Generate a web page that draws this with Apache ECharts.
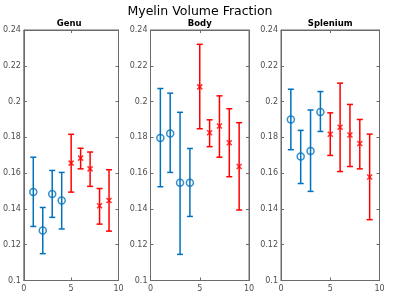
<!DOCTYPE html>
<html>
<head>
<meta charset="utf-8">
<script src="https://cdn.jsdelivr.net/npm/echarts@6/dist/echarts.min.js"></script>
<style>
  html, body { margin: 0; padding: 0; background: #fff; }
  #chart { width: 400px; height: 296px; }
</style>
</head>
<body>
<div id="chart"></div>
<script>
// subject index on the x axis; 1-4 are one group (blue), 5-9 the other (red)
const xs = [1, 2, 3, 4, 5, 6, 7, 8, 9];
const blueCount = 4;
const yTicks = [0.1, 0.12, 0.14, 0.16, 0.18, 0.2, 0.22, 0.24];
const xTicks = [0, 5, 10];
const panelNames = ["Genu", "Body", "Splenium"];

const genuMean = [0.1494, 0.128, 0.1483, 0.1447, 0.1656, 0.1684, 0.1624, 0.1418, 0.1447];
const genuLow = [0.1302, 0.115, 0.1353, 0.1288, 0.1494, 0.1624, 0.1526, 0.1315, 0.1276];
const genuHigh = [0.1689, 0.1408, 0.1615, 0.1604, 0.1817, 0.1739, 0.1718, 0.1514, 0.1619];

const bodyMean = [0.1796, 0.1822, 0.1546, 0.1546, 0.2082, 0.1826, 0.1863, 0.177, 0.1637];
const bodyLow = [0.1524, 0.1604, 0.1146, 0.1358, 0.1848, 0.1748, 0.1689, 0.158, 0.1394];
const bodyHigh = [0.2073, 0.2047, 0.194, 0.1738, 0.232, 0.1898, 0.2032, 0.196, 0.1882];

const spleniumMean = [0.19, 0.1693, 0.1724, 0.1942, 0.1817, 0.1857, 0.1813, 0.1766, 0.1578];
const spleniumLow = [0.1731, 0.1542, 0.1498, 0.1833, 0.1699, 0.1609, 0.1637, 0.1624, 0.134];
const spleniumHigh = [0.2069, 0.1839, 0.1953, 0.2056, 0.1937, 0.2103, 0.1984, 0.19, 0.1818];

const panels = [
  [genuMean, genuLow, genuHigh],
  [bodyMean, bodyLow, bodyHigh],
  [spleniumMean, spleniumLow, spleniumHigh]
];

const blue = "#0072BD";
const red = "#FF0000";
const axisColor = "#6b6b6b";
const textColor = "#4d4d4d";
const gridLefts = [20, 150.5, 281];
const gridW = 98.5;

const chart = echarts.init(document.getElementById("chart"));

function errorBar(color) {
  return function (params, api) {
    const top = api.coord([api.value(0), api.value(2)]);
    const bot = api.coord([api.value(0), api.value(1)]);
    const cap = 3;
    const style = { stroke: color, lineWidth: 1.5 };
    return {
      type: "group",
      children: [
        { type: "line", shape: { x1: top[0], y1: top[1], x2: bot[0], y2: bot[1] }, style: style },
        { type: "line", shape: { x1: top[0] - cap, y1: top[1], x2: top[0] + cap, y2: top[1] }, style: style },
        { type: "line", shape: { x1: bot[0] - cap, y1: bot[1], x2: bot[0] + cap, y2: bot[1] }, style: style }
      ]
    };
  };
}

const grids = [];
const xAxes = [];
const yAxes = [];
const series = [];
const titles = [{
  text: "Myelin Volume Fraction",
  left: "center",
  top: 5,
  padding: 0,
  textStyle: { fontSize: 12.5, fontWeight: "normal", color: "#000", fontFamily: "DejaVu Sans" }
}];

panels.forEach((p, i) => {
  grids.push({
    left: gridLefts[i], top: 30, width: gridW, height: 250.5,
    show: true, borderColor: axisColor, borderWidth: 1, backgroundColor: "#fff"
  });
  titles.push({
    text: panelNames[i],
    left: gridLefts[i] + gridW / 2,
    textAlign: "center",
    top: 19,
    padding: 0,
    textStyle: { fontSize: 8.5, fontWeight: "bold", color: "#000", fontFamily: "DejaVu Sans" }
  });
  const axBase = {
    gridIndex: i, type: "value", min: 0, max: 10, interval: 5,
    axisLine: { show: true, onZero: false, lineStyle: { color: axisColor } },
    axisTick: { show: true, inside: true, length: 3, lineStyle: { color: axisColor } },
    splitLine: { show: false }
  };
  xAxes.push(Object.assign({}, axBase, {
    position: "bottom",
    axisLabel: { color: textColor, fontSize: 8, margin: 4, fontFamily: "DejaVu Sans",
      formatter: v => xTicks.includes(v) ? String(v) : "" }
  }));
  xAxes.push(Object.assign({}, axBase, { position: "top", axisLabel: { show: false } }));
  const yBase = {
    gridIndex: i, type: "value", min: 0.1, max: 0.24, interval: 0.02,
    axisLine: { show: true, onZero: false, lineStyle: { color: axisColor } },
    axisTick: { show: true, inside: true, length: 3, lineStyle: { color: axisColor } },
    splitLine: { show: false }
  };
  yAxes.push(Object.assign({}, yBase, {
    position: "left",
    axisLabel: { color: textColor, fontSize: 8, margin: 3, fontFamily: "DejaVu Sans",
      formatter: v => String(+v.toFixed(2)) }
  }));
  yAxes.push(Object.assign({}, yBase, { position: "right", axisLabel: { show: false } }));

  const mean = p[0], low = p[1], high = p[2];
  const blueBars = [], redBars = [], bluePts = [], redPts = [];
  xs.forEach((x, k) => {
    if (k < blueCount) {
      blueBars.push([x, low[k], high[k]]);
      bluePts.push([x, mean[k]]);
    } else {
      redBars.push([x, low[k], high[k]]);
      redPts.push([x, mean[k]]);
    }
  });
  const xi = i * 2, yi = i * 2;
  series.push({ type: "custom", xAxisIndex: xi, yAxisIndex: yi, renderItem: errorBar(blue), data: blueBars, silent: true });
  series.push({ type: "custom", xAxisIndex: xi, yAxisIndex: yi, renderItem: errorBar(red), data: redBars, silent: true });
  series.push({
    type: "scatter", xAxisIndex: xi, yAxisIndex: yi, data: bluePts,
    symbol: "circle", symbolSize: 7,
    itemStyle: { color: "rgba(0,0,0,0)", borderColor: blue, borderWidth: 1.5 }, z: 3
  });
  series.push({
    type: "scatter", xAxisIndex: xi, yAxisIndex: yi, data: redPts,
    symbol: "path://M0,0L10,10M10,0L0,10", symbolSize: 5,
    itemStyle: { color: "rgba(0,0,0,0)", borderColor: red, borderWidth: 1.5 }, z: 3
  });
});

chart.setOption({
  animation: false,
  title: titles,
  grid: grids,
  xAxis: xAxes,
  yAxis: yAxes,
  series: series
});
</script>
</body>
</html>
